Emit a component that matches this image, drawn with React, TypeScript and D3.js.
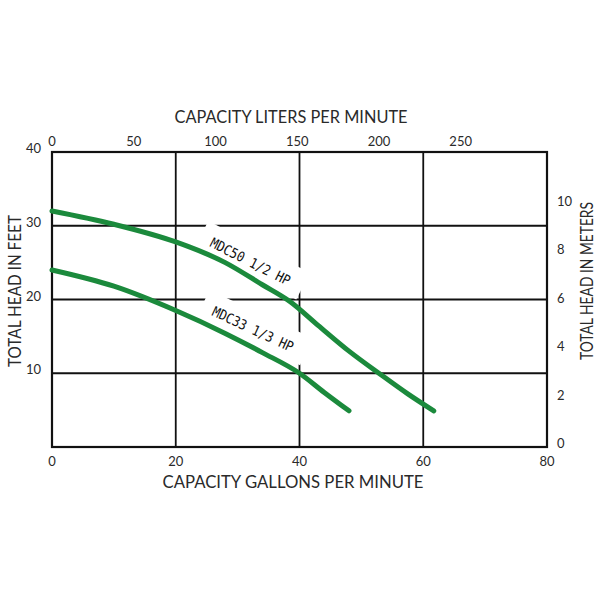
import React from "react";
import * as d3 from "d3";

const gpmTicks = [0, 20, 40, 60, 80];
const feetTicks = [10, 20, 30, 40];
const literTicks = [0, 50, 100, 150, 200, 250];
const meterTicks = [0, 2, 4, 6, 8, 10];

const mdc50Gpm = [0, 10, 20, 28, 34, 38.5, 43, 48, 53, 57.5, 61.7];
const mdc50Feet = [32, 30.2, 27.8, 25, 22, 19.7, 16.5, 13, 9.9, 7.2, 4.9];
const mdc33Gpm = [0, 10, 20, 28, 34, 40, 44, 48];
const mdc33Feet = [24, 21.8, 18.5, 15.4, 12.8, 10, 7.4, 4.9];

const LITERS_PER_GAL = 3.785;
const FEET_PER_METER = 3.281;

const W = 600, H = 600;
const L = 52, R = 547, T = 152, B = 447;

const x = d3.scaleLinear().domain([0, 80]).range([L, R]);
const y = d3.scaleLinear().domain([0, 40]).range([B, T]);
const xL = d3.scaleLinear().domain([0, 80 * LITERS_PER_GAL]).range([L, R]);
const yM = d3.scaleLinear().domain([0, 40 / FEET_PER_METER]).range([B, T]);

const line = d3
  .line<[number, number]>()
  .x((d) => x(d[0]))
  .y((d) => y(d[1]))
  .curve(d3.curveMonotoneX);

const font = "Lato, 'Open Sans', sans-serif";
const txt = "#2a2a2a";
const green = "#1b8a3c";

function CurveLabel({ px, py, angle, text }: { px: number; py: number; angle: number; text: string }) {
  return (
    <g transform={`translate(${px},${py}) rotate(${angle})`}>
      <rect x={-12} y={-22} width={114} height={30} fill="white" />
      <text
        x={0}
        y={0}
        fontFamily="'DejaVu Sans Mono', monospace"
        fontSize={14}
        textLength={88}
        lengthAdjust="spacingAndGlyphs"
        fill="#111"
      >
        {text}
      </text>
    </g>
  );
}

export default function App() {
  const d50 = mdc50Gpm.map((g, i) => [g, mdc50Feet[i]] as [number, number]);
  const d33 = mdc33Gpm.map((g, i) => [g, mdc33Feet[i]] as [number, number]);
  return (
    <svg width={W} height={H} style={{ position: "absolute", left: 0, top: 0, background: "white" }}>
      <rect x={0} y={0} width={W} height={H} fill="white" />
      {[20, 40, 60].map((g) => (
        <line key={"v" + g} x1={x(g)} x2={x(g)} y1={T} y2={B} stroke="#111" strokeWidth={1.8} />
      ))}
      {[10, 20, 30].map((f) => (
        <line key={"h" + f} x1={L} x2={R} y1={y(f)} y2={y(f)} stroke="#111" strokeWidth={1.8} />
      ))}
      <CurveLabel px={209} py={246} angle={27} text="MDC50 1/2 HP" />
      <CurveLabel px={211} py={315} angle={25} text="MDC33 1/3 HP" />
      <rect x={L} y={T} width={R - L} height={B - T} fill="none" stroke="#111" strokeWidth={2.2} />
      <path d={line(d50) || ""} fill="none" stroke={green} strokeWidth={5} strokeLinecap="round" />
      <path d={line(d33) || ""} fill="none" stroke={green} strokeWidth={5} strokeLinecap="round" />
      {gpmTicks.map((g) => (
        <text key={"b" + g} x={x(g)} y={466} textAnchor="middle" fontFamily={font} fontSize={13} fill={txt}>
          {g}
        </text>
      ))}
      {feetTicks.map((f) => (
        <text key={"l" + f} x={41} y={y(f) + 1} textAnchor="end" fontFamily={font} fontSize={13} fill={txt}>
          {f}
        </text>
      ))}
      {literTicks.map((l) => (
        <text key={"t" + l} x={xL(l)} y={146} textAnchor="middle" fontFamily={font} fontSize={13} fill={txt}>
          {l}
        </text>
      ))}
      {meterTicks.map((m) => (
        <text key={"r" + m} x={557} y={yM(m) + 1} textAnchor="start" fontFamily={font} fontSize={13} fill={txt}>
          {m}
        </text>
      ))}
      <text x={291} y={123} textAnchor="middle" fontFamily={font} fontSize={17} fill={txt} textLength={233} lengthAdjust="spacingAndGlyphs">
        CAPACITY LITERS PER MINUTE
      </text>
      <text x={293} y={488} textAnchor="middle" fontFamily={font} fontSize={17} fill={txt} textLength={261} lengthAdjust="spacingAndGlyphs">
        CAPACITY GALLONS PER MINUTE
      </text>
      <text
        transform={`translate(21,291) rotate(-90)`}
        textAnchor="middle"
        fontFamily={font}
        fontSize={17}
        fill={txt}
        textLength={152}
        lengthAdjust="spacingAndGlyphs"
      >
        TOTAL HEAD IN FEET
      </text>
      <text
        transform={`translate(593,281) rotate(-90)`}
        textAnchor="middle"
        fontFamily={font}
        fontSize={17}
        fill={txt}
        textLength={158}
        lengthAdjust="spacingAndGlyphs"
      >
        TOTAL HEAD IN METERS
      </text>
    </svg>
  );
}
